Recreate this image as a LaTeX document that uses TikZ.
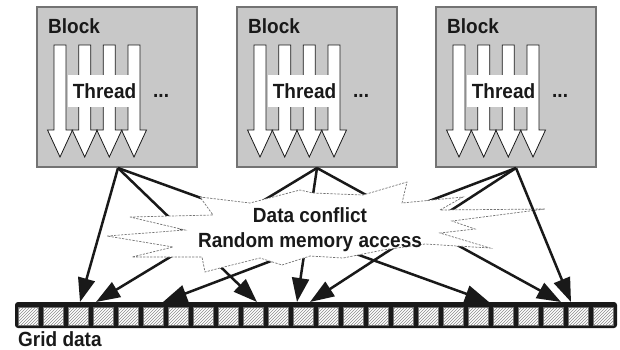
\documentclass[tikz,border=0pt]{standalone}
\usepackage{fontspec}
\setmainfont{Liberation Sans}
\usetikzlibrary{arrows.meta,patterns}
\definecolor{blockgray}{RGB}{200,200,200}
\definecolor{edgegray}{RGB}{115,115,115}
\definecolor{ink}{RGB}{25,25,25}
\definecolor{hatchgray}{RGB}{140,140,140}
\newcommand\stx[1]{\scalebox{1}[1.08]{\bfseries #1}}
\begin{document}
\begin{tikzpicture}[x=1pt,y=-1pt,
  blockbox/.style={draw=edgegray,line width=1.5pt,fill=blockgray,minimum width=160pt,minimum height=160pt,inner sep=0pt},
  threadarrow/.style={draw=ink,fill=white,line width=0.8pt,line join=miter},
  lbl/.style={text=ink,inner sep=0pt,font=\fontsize{19}{21}\selectfont},
  threadbox/.style={fill=white,minimum width=70pt,minimum height=32pt,inner sep=0pt},
  access/.style={draw=ink,line width=2.5pt,-{Triangle[length=24pt,width=17pt]}},
  cloudline/.style={draw=edgegray,fill=white,line width=0.7pt,dash pattern=on 2.2pt off 1.3pt,line join=miter},
  gridbar/.style={fill=ink,rounded corners=3pt},
  cellbox/.style={draw=hatchgray!80!black,line width=0.6pt,minimum width=20pt,minimum height=18pt,inner sep=0pt,
    preaction={fill=white},pattern=north east lines,pattern color=hatchgray}
]
\useasboundingbox (0,0) rectangle (620,349);

% blocks with threads
\foreach \ox/\n in {0/1,200/2,399/3}{
  \begin{scope}[shift={(\ox,0)}]
    \node[blockbox] (blk\n) at (117,87) {};
    \node[lbl,anchor=base west] (blklbl\n) at (48,33) {\stx{Block}};
    \foreach \c in {60,84.7,109.3,134}{
      \draw[threadarrow] (\c-6,45) -- (\c+6,45) -- (\c+6,130) -- (\c+12.5,130) -- (\c,157)
        -- (\c-12.5,130) -- (\c-6,130) -- cycle;
    }
    \node[threadbox] (tbox\n) at (103,91) {};
    \node[lbl,anchor=base] (ttxt\n) at (104.5,98) {\stx{Thread}};
    \node[lbl,anchor=base west] (dots\n) at (153,97) {\stx{...}};
  \end{scope}
}

% grid data bar
\node[gridbar,minimum width=602pt,minimum height=26pt,inner sep=0pt] (bar) at (316,315) {};
\foreach \i in {0,...,23}{
  \node[cellbox] (cell\i) at (28+25*\i,316) {};
}
\node[lbl,anchor=base west] (gridlbl) at (18,346) {\stx{Grid data}};

% sources and targets
\coordinate (s1) at (118,168);
\coordinate (s2) at (317,168);
\coordinate (s3) at (516,168);
\coordinate (t1) at (80,302);
\coordinate (t2) at (96,302);
\coordinate (t3) at (163,302);
\coordinate (t4) at (257,302);
\coordinate (t5) at (297,302);
\coordinate (t6) at (310,302);
\coordinate (t7) at (489,302);
\coordinate (t8) at (561,302);
\coordinate (t9) at (571,302);

% connectors passing behind the cloud
\draw[access] (s1) -- (t4);
\draw[access] (s1) -- (t7);
\draw[access] (s2) -- (t2);
\draw[access] (s2) -- (t5);
\draw[access] (s2) -- (t8);
\draw[access] (s3) -- (t3);
\draw[access] (s3) -- (t6);

% cloud
\path[cloudline] (130,217) -- (213,215) -- (200,197) -- (250,203) -- (300,190) -- (313,193)
  -- (363,195) -- (407,182) -- (402,203) -- (463,197) -- (440,210) -- (545,209) -- (452,221)
  -- (475,229) -- (440,233) -- (490,248) -- (425,244) -- (383,250) -- (343,258) -- (310,256)
  -- (282,265) -- (260,258) -- (220,268) -- (205,272) -- (202,257) -- (132,257) -- (173,247)
  -- (107,236) -- (185,230) -- cycle;
\node[lbl,anchor=base] (conf) at (310,222) {\stx{Data conflict}};
\node[lbl,anchor=base] (rand) at (310,247) {\stx{Random memory access}};

% direct connectors
\draw[access] (s1) -- (t1);
\draw[access] (s3) -- (t9);
\end{tikzpicture}
\end{document}
